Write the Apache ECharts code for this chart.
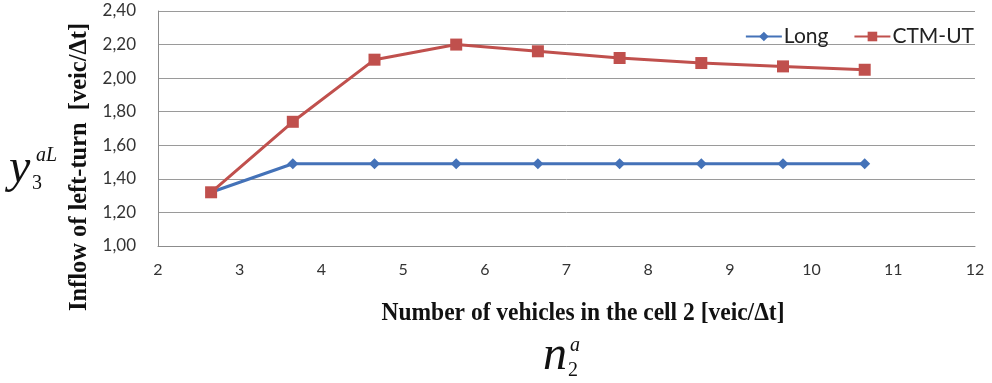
<!DOCTYPE html>
<html>
<head>
<meta charset="utf-8">
<script src="https://cdn.jsdelivr.net/npm/echarts@6/dist/echarts.min.js"></script>
<style>
  html, body { margin: 0; padding: 0; background: #fff; }
  #chart { width: 992px; height: 383px; }
</style>
</head>
<body>
<div id="chart"></div>
<script>
// Number of vehicles in cell 2 (x) and left-turn inflow for each model (y)
const cellVehicles = [2.65, 3.65, 4.65, 5.65, 6.65, 7.65, 8.65, 9.65, 10.65];
const longValues   = [1.32, 1.49, 1.49, 1.49, 1.49, 1.49, 1.49, 1.49, 1.49];
const ctmUtValues  = [1.32, 1.74, 2.11, 2.20, 2.16, 2.12, 2.09, 2.07, 2.05];
const seriesNames  = ['Long', 'CTM-UT'];
const xTitle = 'Number of vehicles in the cell 2 [veic/\u0394t]';
const yTitle = 'Inflow of left-turn  [veic/\u0394t]';

const pairs = (xs, ys) => xs.map((x, i) => [x, ys[i]]);

const chart = echarts.init(document.getElementById('chart'), null, { renderer: 'canvas' });

const labelFont = 'Lato, "Open Sans", sans-serif';
const serif = '"Liberation Serif", "DejaVu Serif", serif';

chart.setOption({
  animation: false,
  backgroundColor: '#ffffff',
  grid: { left: 158, right: 17, top: 11, bottom: 137 },
  legend: {
    right: 13, top: 21,
    itemGap: 25, itemWidth: 36, itemHeight: 12,
    textStyle: { fontFamily: labelFont, fontSize: 21, color: '#222', padding: [0, 0, 0, -3] },
    data: seriesNames
  },
  xAxis: {
    type: 'value', min: 2, max: 12, interval: 1,
    axisLine: { show: true, lineStyle: { color: '#8c8c8c', width: 1 } },
    axisTick: { show: false },
    splitLine: { show: false },
    axisLabel: { margin: 16, fontFamily: labelFont, fontSize: 16, color: '#333' }
  },
  yAxis: {
    type: 'value', min: 1, max: 2.4, interval: 0.2,
    axisLine: { show: true, lineStyle: { color: '#8c8c8c', width: 1 } },
    axisTick: { show: false },
    splitLine: { show: true, lineStyle: { color: '#9a9a9a', width: 1 } },
    axisLabel: {
      margin: 22, fontFamily: labelFont, fontSize: 17, color: '#333',
      formatter: v => v.toFixed(2).replace('.', ',')
    }
  },
  series: [
    {
      name: seriesNames[0], type: 'line', data: pairs(cellVehicles, longValues),
      symbol: 'diamond', symbolSize: 11,
      itemStyle: { color: '#4472B8' },
      lineStyle: { color: '#4472B8', width: 3 },
      z: 2
    },
    {
      name: seriesNames[1], type: 'line', data: pairs(cellVehicles, ctmUtValues),
      symbol: 'rect', symbolSize: 12,
      itemStyle: { color: '#C0504D' },
      lineStyle: { color: '#C0504D', width: 3 },
      z: 3
    }
  ],
  graphic: [
    // vertical axis title
    {
      type: 'text', x: 79, y: 167, rotation: Math.PI / 2, scaleX: 0.94,
      style: {
        text: yTitle, font: 'bold 26px ' + serif, fill: '#111',
        align: 'center', verticalAlign: 'middle'
      }
    },
    // horizontal axis title
    {
      type: 'text', x: 583, y: 314, scaleX: 0.94,
      style: {
        text: xTitle, font: 'bold 25px ' + serif, fill: '#111',
        align: 'center', verticalAlign: 'middle'
      }
    },
    // symbol y_3^{aL}
    { type: 'text', x: 9, y: 169, style: { text: 'y', font: 'italic 48px ' + serif, fill: '#111', verticalAlign: 'middle' } },
    { type: 'text', x: 32, y: 184, style: { text: '3', font: '20px ' + serif, fill: '#111', verticalAlign: 'middle' } },
    { type: 'text', x: 36, y: 156, style: { text: 'aL', font: 'italic 20px ' + serif, fill: '#111', verticalAlign: 'middle' } },
    // symbol n_2^a
    { type: 'text', x: 543, y: 356, style: { text: 'n', font: 'italic 48px ' + serif, fill: '#111', verticalAlign: 'middle' } },
    { type: 'text', x: 568, y: 371, style: { text: '2', font: '20px ' + serif, fill: '#111', verticalAlign: 'middle' } },
    { type: 'text', x: 570, y: 346, style: { text: 'a', font: 'italic 20px ' + serif, fill: '#111', verticalAlign: 'middle' } }
  ]
});
</script>
</body>
</html>
